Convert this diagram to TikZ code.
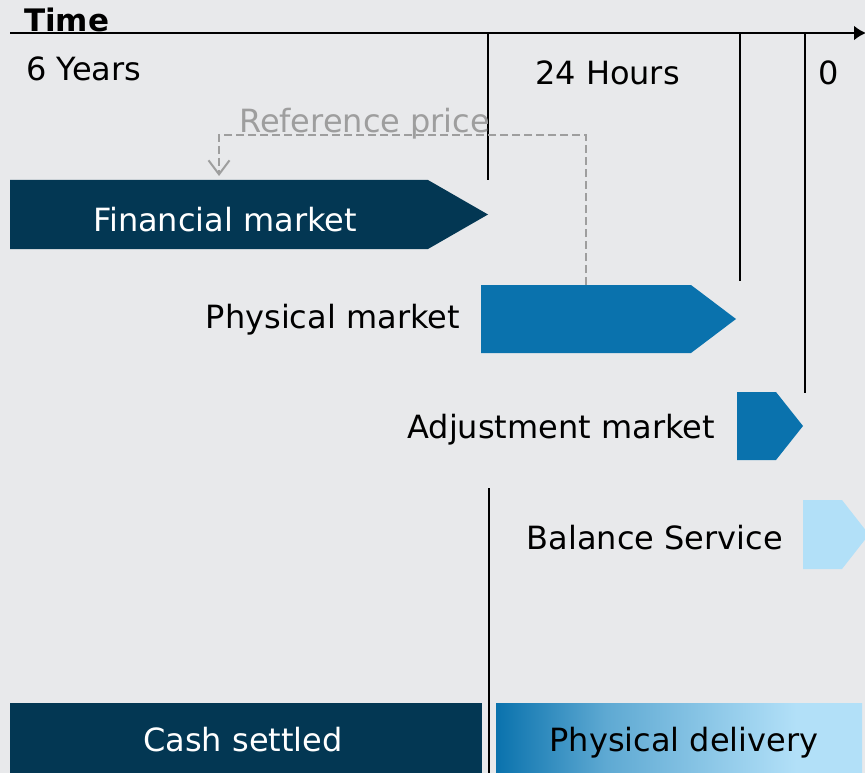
\documentclass[tikz,border=0pt]{standalone}
\usepackage{fontspec}
\setmainfont{DejaVu Sans}
\usetikzlibrary{arrows.meta}
\definecolor{bg}{RGB}{232,233,235}
\definecolor{navy}{RGB}{3,55,83}
\definecolor{midblue}{RGB}{10,114,173}
\definecolor{lightblue}{RGB}{178,224,248}
\definecolor{refgray}{RGB}{158,158,158}
\pgfdeclarehorizontalshading{pdshade}{100bp}{color(0bp)=(midblue); color(25bp)=(midblue); color(40bp)=(midblue!50!lightblue); color(66bp)=(lightblue); color(100bp)=(lightblue)}
\tikzset{
  lbl/.style={inner sep=0pt, font=\fontsize{32}{38}\selectfont},
  whitelbl/.style={lbl, text=white},
  tick/.style={line width=2.2pt, black},
  refline/.style={line width=2pt, refgray, dash pattern=on 8pt off 4pt},
}
\begin{document}
\begin{tikzpicture}[x=1pt,y=-1pt]
\fill[bg] (0,0) rectangle (865,773);
\useasboundingbox (0,0) rectangle (865,773);

% market arrows
\fill[navy] (10,180) -- (428,180) -- (488,214.5) -- (428,249) -- (10,249) -- cycle;
\fill[midblue] (481,285) -- (691,285) -- (736,319) -- (691,353) -- (481,353) -- cycle;
\fill[midblue] (737,392) -- (776,392) -- (803,426) -- (776,460) -- (737,460) -- cycle;
\fill[lightblue] (803,500) -- (842,500) -- (869,534.5) -- (842,569) -- (803,569) -- cycle;

% bottom boxes
\fill[navy] (10,703) rectangle (482,773);
\shade[shading=pdshade] (496,703) rectangle (862,773);

% time axis
\coordinate (axisstart) at (10,33);
\coordinate (axisend) at (866,33);
\draw[tick, -{Latex[length=12pt,width=15pt]}] (axisstart) -- (axisend);
\node[lbl, font=\fontsize{31}{36}\selectfont\bfseries, anchor=base west] (time) at (24,32) {Time};

% vertical separators
\coordinate (t1a) at (488,33);  \coordinate (t1b) at (488,180);
\coordinate (t2a) at (740,33);  \coordinate (t2b) at (740,281);
\coordinate (t3a) at (805,33);  \coordinate (t3b) at (805,393);
\coordinate (t4a) at (489,488); \coordinate (t4b) at (489,773);
\draw[tick] (t1a) -- (t1b);
\draw[tick] (t2a) -- (t2b);
\draw[tick] (t3a) -- (t3b);
\draw[tick] (t4a) -- (t4b);

% time labels
\node[lbl, anchor=base west] (years) at (26,81) {6 Years};
\node[lbl, anchor=base west] (hours) at (535,85) {24 Hours};
\node[lbl, anchor=base west] (zero) at (818,85) {0};

% market labels
\node[whitelbl, anchor=base] (fin) at (225,231) {Financial market};
\node[lbl, anchor=base east] (phys) at (460,328) {Physical market};
\node[lbl, anchor=base east] (adj) at (715,438) {Adjustment market};
\node[lbl, anchor=base east] (bal) at (783,549) {Balance Service};
\node[whitelbl, anchor=base] (cash) at (243,751) {Cash settled};
\node[lbl, anchor=base] (deliv) at (684,751) {Physical delivery};

% reference price
\coordinate (refstart) at (586,285);
\coordinate (refcorner) at (219,135);
\coordinate (refend) at (219,176);
\draw[refline, -{Straight Barb[length=14pt,width=21pt,line width=2pt]}] (refstart) |- (refcorner) -- (refend);
\node[lbl, text=refgray, anchor=base west] (ref) at (239,133) {Reference price};
\end{tikzpicture}
\end{document}
